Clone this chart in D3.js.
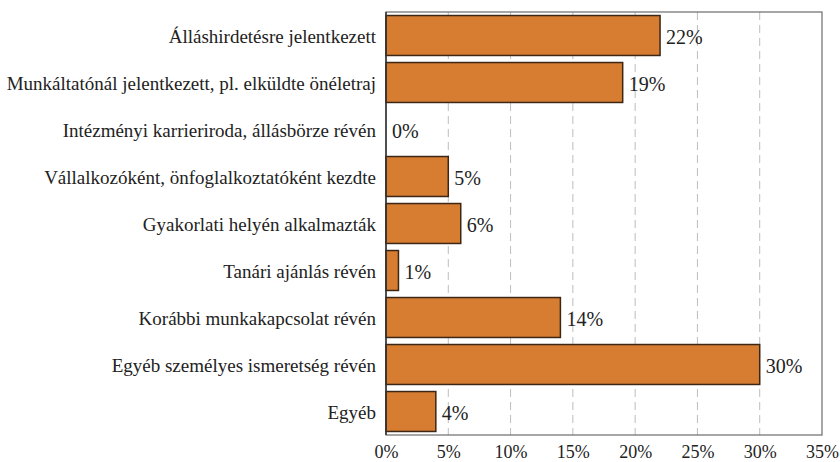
<!DOCTYPE html>
<html><head><meta charset="utf-8">
<script src="https://cdn.jsdelivr.net/npm/d3@7"></script>
<style>body{margin:0;background:#fff}svg{display:block}</style>
</head><body>
<svg id="c" width="840" height="462"></svg>
<script>
const categories = [
  "Álláshirdetésre jelentkezett",
  "Munkáltatónál jelentkezett, pl. elküldte önéletraj",
  "Intézményi karrieriroda, állásbörze révén",
  "Vállalkozóként, önfoglalkoztatóként kezdte",
  "Gyakorlati helyén alkalmazták",
  "Tanári ajánlás révén",
  "Korábbi munkakapcsolat révén",
  "Egyéb személyes ismeretség révén",
  "Egyéb"
];
const values = [22, 19, 0, 5, 6, 1, 14, 30, 4];
const ticks = [0, 5, 10, 15, 20, 25, 30, 35];

const svg = d3.select("#c");
const m = {l:386, r:822, t:12, b:435};
const font = "'Liberation Serif', 'Times New Roman', Times, serif";
const x = d3.scaleLinear().domain([0,35]).range([m.l, m.r]);
const y = d3.scaleBand().domain(categories).range([m.t, m.b]).paddingInner(0.15).paddingOuter(0.075);

// gridlines
svg.append("g").selectAll("line").data(ticks.filter(t=>t>0 && t<35)).join("line")
  .attr("x1", d=>x(d)).attr("x2", d=>x(d)).attr("y1", m.t).attr("y2", m.b)
  .attr("stroke", "#bdbdbd").attr("stroke-width", 1).attr("stroke-dasharray", "8,5");

// frame
svg.append("rect").attr("x", m.l).attr("y", m.t).attr("width", m.r-m.l).attr("height", m.b-m.t)
  .attr("fill","none").attr("stroke","#6b6b6b").attr("stroke-width",1.2);

// bars
svg.append("g").selectAll("rect").data(values).join("rect")
  .attr("x", x(0)).attr("y", (d,i)=>y(categories[i]))
  .attr("width", d=>x(d)-x(0)).attr("height", y.bandwidth())
  .attr("fill", "#D67D32").attr("stroke", "#3d2614").attr("stroke-width", 1.5)
  .attr("display", d=>d>0?null:"none");

// left axis line
svg.append("line").attr("x1", m.l).attr("x2", m.l).attr("y1", m.t).attr("y2", m.b)
  .attr("stroke","#333").attr("stroke-width",1.5);

// value labels
svg.append("g").selectAll("text").data(values).join("text")
  .attr("x", d=>x(d)+6).attr("y", (d,i)=>y(categories[i])+y.bandwidth()/2+1)
  .attr("dy","0.35em").style("font-family", font).style("font-size", "20px").attr("fill","#222")
  .text(d=>d+"%");

// category labels
const yAxis = d3.axisLeft(y).tickSize(0).tickPadding(10);
const ga = svg.append("g").attr("transform", `translate(${m.l},1)`).call(yAxis);
ga.select(".domain").remove();
ga.selectAll("text").style("font-family", font).style("font-size", "19px").attr("fill","#222");

// x axis
const xAxis = d3.axisBottom(x).tickValues(ticks).tickSize(0).tickPadding(10).tickFormat(d=>d+"%");
const gx = svg.append("g").attr("transform", `translate(0,${m.b})`).call(xAxis);
gx.select(".domain").remove();
gx.selectAll("text").style("font-family", font).style("font-size", "18px").attr("fill","#222");
</script>
</body></html>
